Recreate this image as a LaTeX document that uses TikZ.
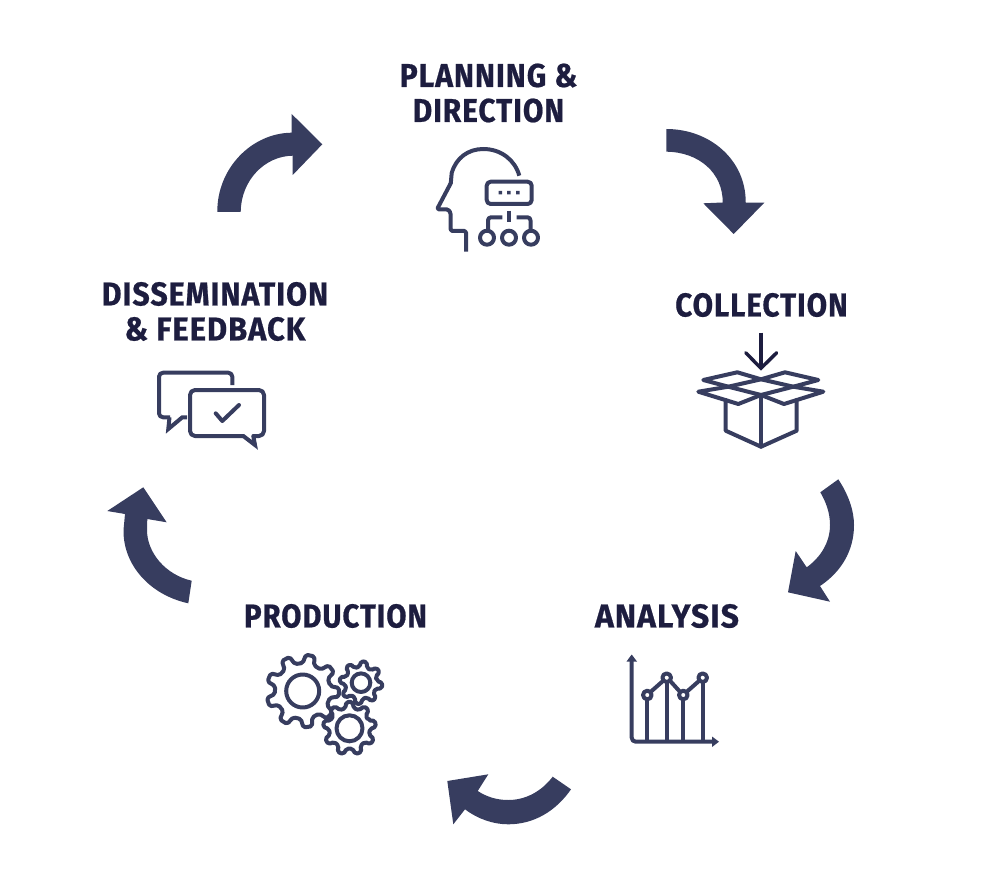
\documentclass[tikz,border=0pt]{standalone}
\usepackage{fontspec}
\setmainfont[FakeStretch=0.9,LetterSpace=3,FakeBold=0.6]{Fira Sans Bold}
\definecolor{navy}{HTML}{373D5F}
\definecolor{inkc}{HTML}{1D1D3F}
\newcommand{\hfit}[2]{\scalebox{#1}[1]{#2}}
\tikzset{
  bend arrow/.style={fill=navy,draw=none},
  icon/.style={draw=navy,line width=4pt,line join=round,line cap=round},
  label/.style={text=inkc,font=\fontsize{33}{35}\selectfont,align=center,inner sep=0pt,anchor=center},
}
\newcommand{\gearicon}[7]{%cx cy rout rroot n offset rhole
  \draw[icon,fill=white,rounded corners=1.8pt]
    ({#1+#4*cos(#6-0.3*360/#5)},{#2+#4*sin(#6-0.3*360/#5)})
    \foreach \i in {1,...,#5}{
      -- ({#1+#3*cos(#6+(\i-1)*360/#5-0.17*360/#5)},{#2+#3*sin(#6+(\i-1)*360/#5-0.17*360/#5)})
      -- ({#1+#3*cos(#6+(\i-1)*360/#5+0.17*360/#5)},{#2+#3*sin(#6+(\i-1)*360/#5+0.17*360/#5)})
      -- ({#1+#4*cos(#6+(\i-1)*360/#5+0.3*360/#5)},{#2+#4*sin(#6+(\i-1)*360/#5+0.3*360/#5)})
      -- ({#1+#4*cos(#6+\i*360/#5-0.3*360/#5)},{#2+#4*sin(#6+\i*360/#5-0.3*360/#5)})
    } -- cycle;
  \draw[icon] (#1,#2) circle (#7);
}
\begin{document}
\begin{tikzpicture}[x=1pt,y=-1pt]
\useasboundingbox (0,0) rectangle (1000,877);
% labels
\node[label] (plan) at (488.5,93) {\hfit{1.015}{PLANNING \&}\\\hfit{1.0}{DIRECTION}};
\node[label] (coll) at (761.5,305) {\hfit{0.995}{COLLECTION}};
\node[label] (anal) at (667,616) {\hfit{1.075}{ANALYSIS}};
\node[label] (prod) at (335.5,616) {\hfit{0.985}{PRODUCTION}};
\node[label] (diss) at (215,311.5) {\hfit{1.02}{DISSEMINATION}\\\hfit{1.04}{\& FEEDBACK}};
% cycle arrows
\path[bend arrow] (666.3,129) .. controls (710,129) and (746,160) .. (745.7,202.5)
  -- (764.3,202.7) -- (733.7,234) -- (703.3,203.3) -- (722.7,202.5)
  .. controls (723,173) and (699,152) .. (666.3,151.7) -- cycle;
\path[bend arrow] (838.3,479.3) .. controls (848,494) and (854,510) .. (854,525)
  .. controls (854,551) and (841,572) .. (820,586) -- (830,601.7) -- (788,592.3) -- (795.7,551) -- (806.7,567.3)
  .. controls (821,557) and (830,542) .. (830,525) .. controls (830,513) and (826,502) .. (820.3,492.3) -- cycle;
\path[bend arrow] (552.7,776.7) .. controls (541,792) and (525,800) .. (508.3,800)
  .. controls (497,800) and (487,797) .. (477.7,791) -- (488.3,774.3) -- (447.3,781) -- (453.3,824.3) -- (465,809.3)
  .. controls (478,819) and (493,824.3) .. (508.3,824.3) .. controls (534,824.3) and (556,811) .. (571,789.3) -- cycle;
\path[bend arrow] (188.3,603.3) .. controls (150,595) and (123,565) .. (123.5,530) -- (125,514)
  -- (107.3,511) -- (143.3,487.3) -- (166.7,522.3) -- (147.3,519) -- (147,530)
  .. controls (147,553) and (166,575) .. (191.7,580.7) -- cycle;
\path[bend arrow] (217.3,212) .. controls (217,168) and (252,133) .. (291.7,132.7)
  -- (291.7,114) -- (322.3,144.3) -- (292.7,175) -- (292.7,155.7)
  .. controls (265,156) and (241,180) .. (240.7,212) -- cycle;
% planning icon
\draw[icon,rounded corners=1.5pt,line cap=butt] (466,251.7) -- (466,231) -- (450.7,231) -- (450.7,213) -- (448,209.3) -- (437,209.3) -- (450.7,183.3);
\draw[icon,line cap=butt] (450.7,184) -- (451.7,173) .. controls (456,158) and (468,149) .. (483.3,149) .. controls (501,149) and (515,160) .. (519.3,175.7);
\draw[icon,rounded corners=4pt] (486.7,181.7) rectangle (531.7,204);
\fill[navy] (498.5,191) rectangle +(3.5,3.5) (507.2,191) rectangle +(3.5,3.5) (516,191) rectangle +(3.5,3.5);
\draw[icon,line cap=butt] (509,210.7) -- (509,221.7);
\draw[icon,line cap=butt,rounded corners=3pt] (502.3,217.3) -- (488,217.3) -- (488,230.5);
\draw[icon,line cap=butt,rounded corners=3pt] (516.7,217.3) -- (530.5,217.3) -- (530.5,230.5);
\draw[icon] (487,237.7) circle (7) (509,237.7) circle (7) (531,237.7) circle (7);
% collection icon
\draw[icon,draw=inkc,line cap=butt,line width=3.4pt] (761,332.7) -- (761,368);
\draw[icon,draw=inkc,line join=miter,line width=3.4pt] (745.7,352.7) -- (761,368.3) -- (776.7,352.7);
\draw[icon] (761,379.3) -- (737.3,372.3) -- (703.3,380) -- (728.3,386.7) -- cycle;
\draw[icon] (761,379.3) -- (785,372.3) -- (818.3,380) -- (793.3,386.7) -- cycle;
\draw[icon] (728.3,386.7) -- (698.3,391.7) -- (738.3,404) -- (761,395) -- (784,404) -- (823.3,391.7) -- (793.3,386.7);
\draw[icon] (728.3,386.7) -- (761,395) -- (793.3,386.7);
\draw[icon] (725.7,400) -- (725.7,430.7) -- (761,446.7) -- (796.7,430.7) -- (796.7,400);
\draw[icon] (761,395) -- (761,446.7);
% analysis icon
\draw[icon,line cap=butt,rounded corners=4pt] (631.7,660) -- (631.7,741.7) -- (713,741.7);
\fill[navy] (631.7,654.5) -- (637,661.5) -- (626.5,661.5) -- cycle;
\fill[navy] (719,741.7) -- (712,736.5) -- (712,747) -- cycle;
\draw[icon,line cap=butt] (647.3,699) -- (647.3,741.7) (666.7,682) -- (666.7,741.7) (683.3,699) -- (683.3,741.7) (702.7,682) -- (702.7,741.7);
\draw[icon,line cap=butt] (650.5,692) -- (663.5,680.5) (669.8,680.5) -- (680.2,692) (686.5,692) -- (699.5,680.5);
\draw[icon] (647.3,695) circle (4.3) (666.7,677.7) circle (4.3) (683.3,695) circle (4.3) (702.7,677.7) circle (4.3);
% production icon
\gearicon{302.7}{691}{36.5}{28}{9}{2}{16.5}
\gearicon{361}{682.7}{21.5}{16}{8}{8}{9.3}
\gearicon{349.5}{728.3}{26.5}{20.5}{9}{-10}{13}
% dissemination icon
\draw[icon,line cap=butt,rounded corners=4pt] (232.3,385) -- (232.3,372.7) -- (159,372.7) -- (159,417.3) -- (170,417.3);
\draw[icon,line cap=butt,line join=miter] (169.5,417.3) -- (168.3,429) -- (182.3,417.3) -- (187,417.3);
\draw[icon,rounded corners=5pt] (243.3,436) -- (190,436) -- (190,390) -- (264,390) -- (264,436) -- (253.3,436);
\draw[icon,line join=miter,line cap=butt] (243.3,436) -- (255,445) -- (253.3,436);
\draw[icon] (215.7,413.3) -- (222.3,421) -- (239,405);
\end{tikzpicture}
\end{document}
